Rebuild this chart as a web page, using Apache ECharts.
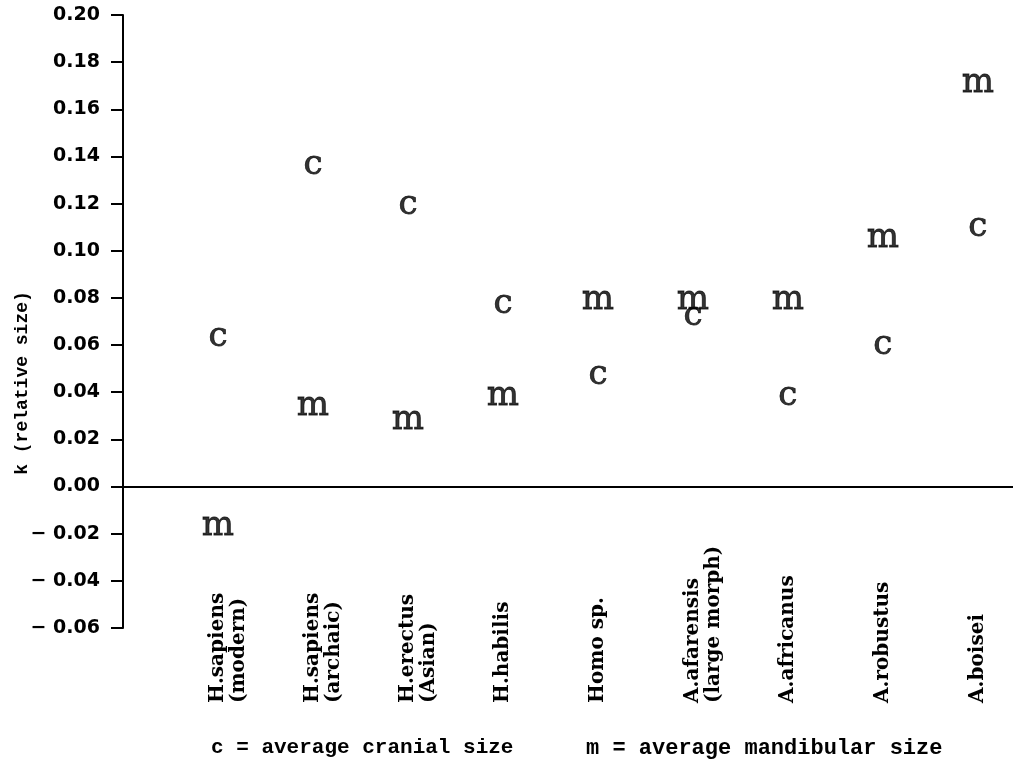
<!DOCTYPE html>
<html>
<head>
<meta charset="utf-8">
<script src="https://cdn.jsdelivr.net/npm/echarts@6/dist/echarts.min.js"></script>
<style>
  html, body { margin: 0; padding: 0; background: #fff; }
  #chart { width: 1013px; height: 778px; }
</style>
</head>
<body>
<div id="chart"></div>
<script>
// ---- data ----
const categories = ['H.sapiens\n(modern)', 'H.sapiens\n(archaic)', 'H.erectus\n(Asian)', 'H.habilis',
  'Homo sp.', 'A.afarensis\n(large morph)', 'A.africanus', 'A.robustus', 'A.boisei'];
const cranial = [0.064, 0.137, 0.120, 0.078, 0.048, 0.073, 0.039, 0.061, 0.111];
const mandibular = [-0.016, 0.035, 0.029, 0.039, 0.080, 0.080, 0.080, 0.106, 0.172];
const yTicks = { min: -0.06, max: 0.20, step: 0.02 };
const yAxisTitle = 'k (relative size)';
const legendCranial = 'c = average cranial size';
const legendMandibular = 'm = average mandibular size';

const chart = echarts.init(document.getElementById('chart'), null, { renderer: 'canvas' });

const letterSeries = (name, letter, values) => ({
  name: name,
  type: 'scatter',
  symbolSize: 1,
  itemStyle: { color: 'rgba(0,0,0,0)' },
  label: {
    show: true,
    position: 'inside',
    offset: [0, 2],
    formatter: letter,
    color: '#000',
    textBorderColor: '#000',
    textBorderWidth: 0.8,
    fontFamily: 'DejaVu Serif',
    fontSize: 34,
    align: 'center',
    verticalAlign: 'middle'
  },
  data: values.map((v, i) => [i, v])
});

// keep the first line of every category label centred on its tick
const catLabel = v => {
  const name = categories[Math.round(v)];
  if (name === undefined) return '';
  const parts = name.split('\n');
  return '\u00a0\n' + parts[0] + '\n' + (parts[1] || '\u00a0');
};

chart.setOption({
  animation: false,
  backgroundColor: '#fff',
  grid: { left: 123, right: 0, top: 15, bottom: 150, containLabel: false, outerBoundsMode: 'none' },
  xAxis: {
    type: 'value',
    min: -1,
    max: 8.37,
    splitLine: { show: false },
    axisLine: { show: true, onZero: true, lineStyle: { color: '#000', width: 2 } },
    axisTick: { show: false },
    axisLabel: {
      customValues: categories.map((c, i) => i),
      formatter: catLabel,
      rotate: 90,
      align: 'left',
      verticalAlign: 'middle',
      margin: 75,
      hideOverlap: false,
      color: '#000',
      fontFamily: 'DejaVu Serif',
      fontWeight: 'bold',
      fontSize: 20,
      lineHeight: 21
    }
  },
  yAxis: {
    type: 'value',
    min: yTicks.min,
    max: yTicks.max,
    interval: yTicks.step,
    splitLine: { show: false },
    axisLine: { show: true, onZero: false, lineStyle: { color: '#000', width: 2 } },
    axisTick: { show: true, inside: false, length: 12, lineStyle: { color: '#000', width: 2 } },
    axisLabel: {
      margin: 23,
      color: '#000',
      fontFamily: 'DejaVu Sans',
      fontWeight: 'bold',
      fontSize: 19,
      formatter: v => (v < -1e-9 ? '\u2212 ' + Math.abs(v).toFixed(2) : Math.abs(v).toFixed(2))
    }
  },
  graphic: [
    {
      type: 'text',
      x: 22, y: 383,
      rotation: Math.PI / 2,
      style: {
        text: yAxisTitle,
        fill: '#000',
        font: 'bold 18px "Liberation Mono"',
        align: 'center', verticalAlign: 'middle',
        textAlign: 'center', textVerticalAlign: 'middle'
      }
    },
    {
      type: 'text',
      x: 211, y: 748,
      style: {
        text: legendCranial,
        fill: '#000',
        font: 'bold 21px "Liberation Mono"',
        align: 'left', verticalAlign: 'middle',
        textAlign: 'left', textVerticalAlign: 'middle'
      }
    },
    {
      type: 'text',
      x: 586, y: 748,
      style: {
        text: legendMandibular,
        fill: '#000',
        font: 'bold 22px "Liberation Mono"',
        align: 'left', verticalAlign: 'middle',
        textAlign: 'left', textVerticalAlign: 'middle'
      }
    }
  ],
  series: [
    letterSeries('average cranial size', 'c', cranial),
    letterSeries('average mandibular size', 'm', mandibular)
  ]
});
</script>
</body>
</html>
